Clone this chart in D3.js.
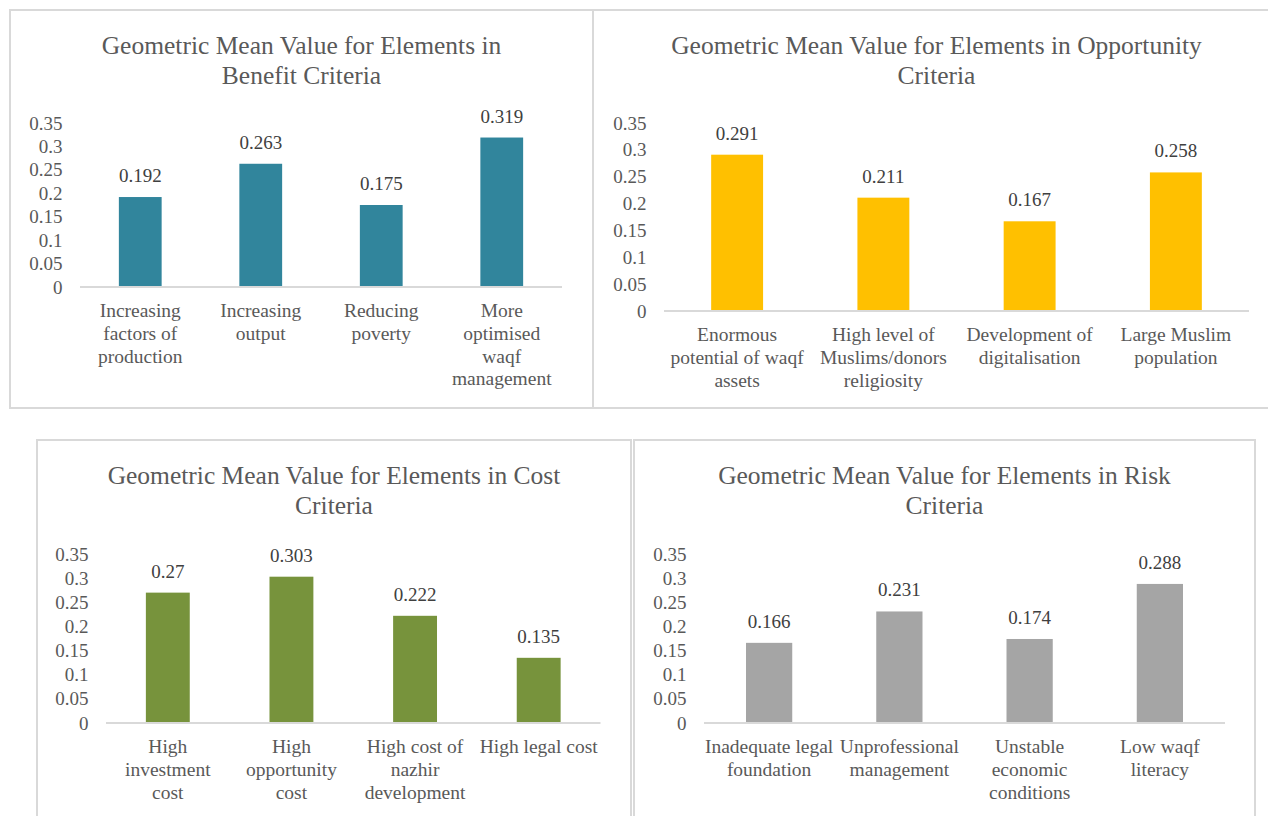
<!DOCTYPE html>
<html>
<head>
<meta charset="utf-8">
<script src="https://cdn.jsdelivr.net/npm/d3@7"></script>
<style>
  html, body { margin: 0; padding: 0; background: #ffffff; }
  svg { display: block; }
  text { font-family: "Liberation Serif", "Times New Roman", serif; }
</style>
</head>
<body>
<svg id="chart" width="1268" height="816"></svg>
<script>
// ---- Data ----
const yTickValues = [0, 0.05, 0.1, 0.15, 0.2, 0.25, 0.3, 0.35];
const yTickLabels = ["0", "0.05", "0.1", "0.15", "0.2", "0.25", "0.3", "0.35"];

const benefitTitle = ["Geometric Mean Value for Elements in", "Benefit Criteria"];
const benefitCategories = [
  ["Increasing", "factors of", "production"],
  ["Increasing", "output"],
  ["Reducing", "poverty"],
  ["More", "optimised", "waqf", "management"]
];
const benefitValues = [0.192, 0.263, 0.175, 0.319];

const opportunityTitle = ["Geometric Mean Value for Elements in Opportunity", "Criteria"];
const opportunityCategories = [
  ["Enormous", "potential of waqf", "assets"],
  ["High level of", "Muslims/donors", "religiosity"],
  ["Development of", "digitalisation"],
  ["Large Muslim", "population"]
];
const opportunityValues = [0.291, 0.211, 0.167, 0.258];

const costTitle = ["Geometric Mean Value for Elements in Cost", "Criteria"];
const costCategories = [
  ["High", "investment", "cost"],
  ["High", "opportunity", "cost"],
  ["High cost of", "nazhir", "development"],
  ["High legal cost"]
];
const costValues = [0.27, 0.303, 0.222, 0.135];

const riskTitle = ["Geometric Mean Value for Elements in Risk", "Criteria"];
const riskCategories = [
  ["Inadequate legal", "foundation"],
  ["Unprofessional", "management"],
  ["Unstable", "economic", "conditions"],
  ["Low waqf", "literacy"]
];
const riskValues = [0.166, 0.231, 0.174, 0.288];

// ---- Panel layout ----
const panels = [
  { title: benefitTitle, cats: benefitCategories, vals: benefitValues, color: "#31859C",
    frame: [10, 10, 593, 408], titleY: 45, xr: [80, 562], yr: [287, 123] },
  { title: opportunityTitle, cats: opportunityCategories, vals: opportunityValues, color: "#FFC000",
    frame: [593, 10, 1280, 408], titleY: 45, xr: [664, 1249], yr: [311, 123] },
  { title: costTitle, cats: costCategories, vals: costValues, color: "#77933C",
    frame: [37, 440, 631, 840], titleY: 475, xr: [106, 600.5], yr: [723, 554] },
  { title: riskTitle, cats: riskCategories, vals: riskValues, color: "#A5A5A5",
    frame: [634, 440, 1255, 840], titleY: 475, xr: [704, 1225], yr: [723, 554] }
];

const svg = d3.select("#chart");
const gridColor = "#D9D9D9";
const textColor = "#595959";
const labelColor = "#404040";

panels.forEach(p => {
  const g = svg.append("g");
  const [fx0, fy0, fx1, fy1] = p.frame;

  // chart area border
  g.append("rect")
    .attr("x", fx0).attr("y", fy0)
    .attr("width", fx1 - fx0).attr("height", fy1 - fy0)
    .attr("fill", "none").attr("stroke", gridColor).attr("stroke-width", 2);

  // title
  const cx = (fx0 + fx1) / 2;
  g.append("text")
    .attr("x", cx).attr("y", p.titleY)
    .attr("text-anchor", "middle").attr("dominant-baseline", "central")
    .attr("fill", textColor).style("font-size", "25.5px")
    .selectAll("tspan").data(p.title).join("tspan")
    .attr("x", cx).attr("dy", (d, i) => i === 0 ? 0 : 30)
    .text(d => d);

  const x = d3.scaleBand()
    .domain(d3.range(p.vals.length))
    .range(p.xr)
    .paddingInner(0.645).paddingOuter(0.3225);
  const y = d3.scaleLinear().domain([0, 0.35]).range(p.yr);

  // value axis labels
  const yAxis = d3.axisLeft(y)
    .tickValues(yTickValues)
    .tickFormat((d, i) => yTickLabels[i])
    .tickSize(0).tickPadding(17.5);
  const ya = g.append("g").attr("transform", `translate(${p.xr[0]},0)`).call(yAxis);
  ya.select(".domain").remove();
  ya.selectAll("text")
    .attr("fill", textColor)
    .style("font-size", "19px")
    .style("font-family", '"Liberation Serif", "Times New Roman", serif');

  // bars
  g.selectAll("rect.bar").data(p.vals).join("rect")
    .attr("class", "bar")
    .attr("x", (d, i) => x(i))
    .attr("width", x.bandwidth())
    .attr("y", d => y(d))
    .attr("height", d => y(0) - y(d))
    .attr("fill", p.color);

  // category axis line
  const xAxis = d3.axisBottom(x).tickSize(0).tickFormat("");
  const xa = g.append("g").attr("transform", `translate(0,${y(0)})`).call(xAxis);
  xa.select(".domain").attr("stroke", gridColor).attr("stroke-width", 2)
    .attr("d", `M${p.xr[0]},0H${p.xr[1]}`);

  // value labels
  g.selectAll("text.val").data(p.vals).join("text")
    .attr("class", "val")
    .attr("x", (d, i) => x(i) + x.bandwidth() / 2)
    .attr("y", d => y(d) - 21.5)
    .attr("text-anchor", "middle").attr("dominant-baseline", "central")
    .attr("fill", labelColor).style("font-size", "19px")
    .text(d => String(d));

  // category labels
  g.selectAll("text.cat").data(p.cats).join("text")
    .attr("class", "cat")
    .attr("text-anchor", "middle").attr("dominant-baseline", "central")
    .attr("fill", textColor).style("font-size", "19.5px")
    .each(function(lines, i) {
      const cxi = x(i) + x.bandwidth() / 2;
      d3.select(this).selectAll("tspan").data(lines).join("tspan")
        .attr("x", cxi)
        .attr("y", (d, j) => y(0) + 23 + j * 22.8)
        .text(d => d);
    });
});
</script>
</body>
</html>
